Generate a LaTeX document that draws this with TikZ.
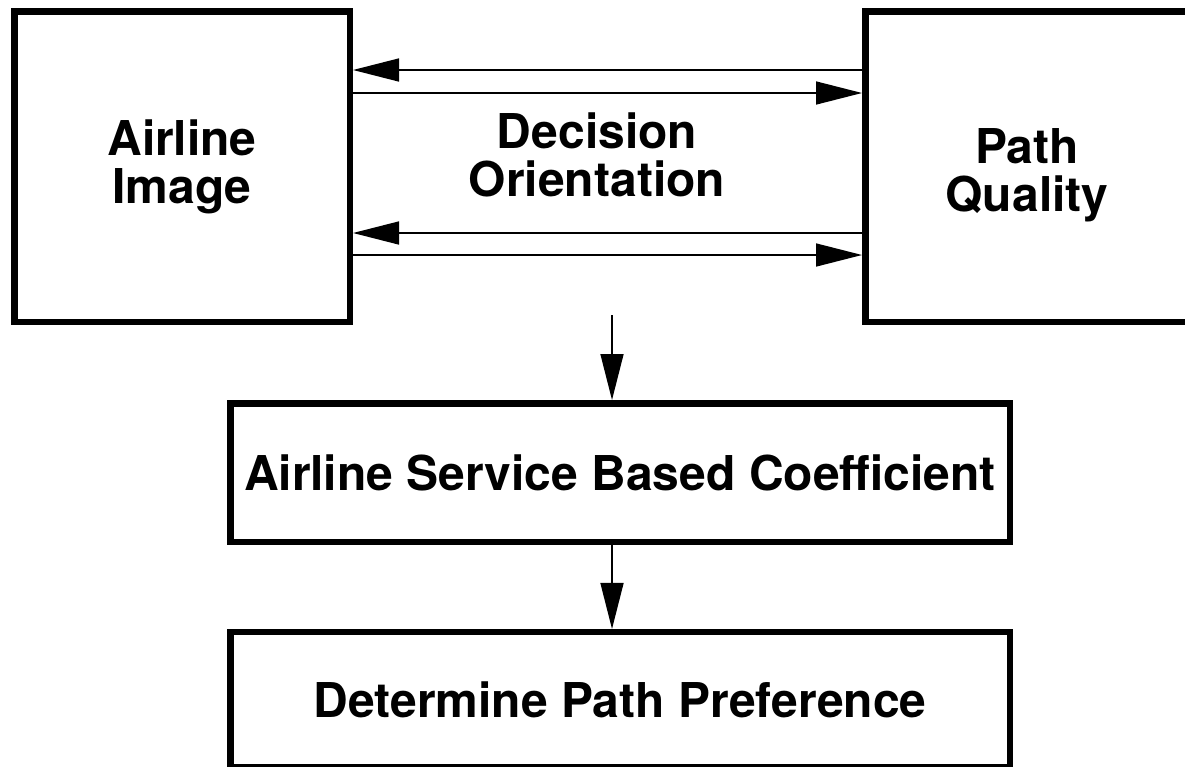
\documentclass[tikz,border=0pt]{standalone}
\usepackage{fontspec}
\setmainfont{TeX Gyre Heros}
\usetikzlibrary{arrows.meta}
\begin{document}
\begin{tikzpicture}[x=1pt,y=-1pt,
  txt/.style={font=\fontsize{48}{48}\selectfont\bfseries, align=center},
  box/.style={draw=black, line width=6.5pt, rectangle, inner sep=0pt, txt},
  conn/.style={line width=1.5pt, -{Triangle[length=46pt,width=23pt]}}]
\useasboundingbox (0,0) rectangle (1185,766);
\clip (0,0) rectangle (1185,766);
\node[box, minimum width=335.5pt, minimum height=310.5pt] (img) at (182,166.5) {Airline\\Image};
\node[box, minimum width=323.5pt, minimum height=310.5pt,
  label={[txt, inner sep=0pt, yshift=-9pt]center:Path\\Quality}] (pq) at (1027,166.5) {};
\node[txt, inner sep=0pt] (dec) at (597,155) {Decision\\Orientation};
\node[box, minimum width=779.5pt, minimum height=138.5pt] (asb) at (620,472.5) {Airline Service Based Coefficient};
\node[box, minimum width=779.5pt, minimum height=134.75pt] (dpp) at (620,699.6) {Determine Path Preference};
\coordinate (y1) at (0,70);
\coordinate (y2) at (0,93);
\coordinate (y3) at (0,233);
\coordinate (y4) at (0,255);
\coordinate (top) at (612,315);
\draw[conn] (pq.west |- y1) -- (img.east |- y1);
\draw[conn] (img.east |- y2) -- (pq.west |- y2);
\draw[conn] (pq.west |- y3) -- (img.east |- y3);
\draw[conn] (img.east |- y4) -- (pq.west |- y4);
\draw[conn] (top) -- (top |- asb.north);
\draw[conn] (top |- asb.south) -- (top |- dpp.north);
\end{tikzpicture}
\end{document}
